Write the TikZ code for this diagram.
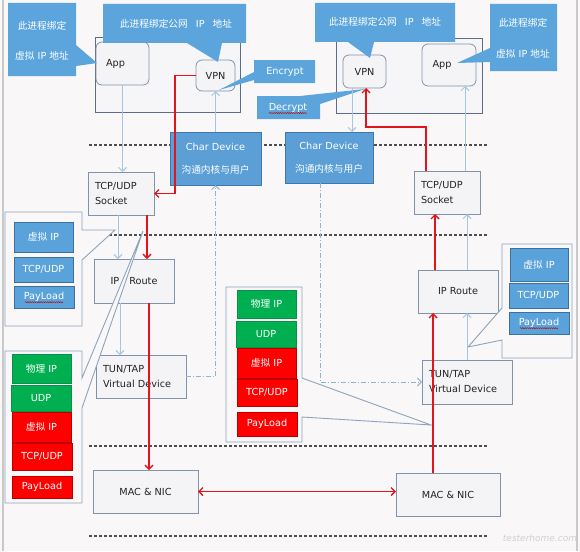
\documentclass[tikz,border=0pt]{standalone}
\usepackage{fontspec}
\setmainfont{DejaVu Sans}
\newfontfamily\cjk{Noto Sans CJK SC}
\usetikzlibrary{arrows.meta,decorations.pathmorphing,calc}
\newcommand\zh[1]{{\cjk #1}}
\newcommand\mkbox[7]{\node[#1,anchor=north west,minimum width={(#5)-(#3)},minimum height={(#6)-(#4)}] (#2) at (#3,#4) {#7};}
\definecolor{bg}{HTML}{F9F7F8}
\definecolor{framec}{HTML}{C9C9C9}
\definecolor{sepc}{HTML}{4D4D4D}
\definecolor{nodeF}{HTML}{F4F4F6}
\definecolor{nodeB}{HTML}{8193AA}
\definecolor{hostB}{HTML}{5A6E8C}
\definecolor{hostF}{HTML}{F6F6F8}
\definecolor{cblue}{HTML}{5CA5DC}
\definecolor{cdF}{HTML}{5B9FD6}
\definecolor{cdB}{HTML}{3F78AE}
\definecolor{sblue}{HTML}{5AA2DA}
\definecolor{sblueB}{HTML}{3D70A0}
\definecolor{grF}{HTML}{00B050}
\definecolor{grB}{HTML}{0C8F48}
\definecolor{rdF}{HTML}{FF0000}
\definecolor{rdB}{HTML}{B80000}
\definecolor{pB}{HTML}{8DA4BC}
\definecolor{rdA}{HTML}{E3141C}
\definecolor{lbA}{HTML}{A6C6E0}
\definecolor{ddc}{HTML}{8FB5D3}
\definecolor{txt}{HTML}{222222}
\begin{document}
\begin{tikzpicture}[x=1pt,y=-1pt,
 base/.style={inner sep=0pt,outer sep=0pt,font=\fontsize{9.7}{15}\selectfont},
 plain/.style={base,draw=nodeB,fill=nodeF,line width=0.8pt,text=txt},
 rnd/.style={plain,rounded corners=6pt},
 host/.style={draw=hostB,fill=hostF,line width=1pt},
 cshape/.style={fill=cblue},
 ctext/.style={base,text=white,align=center},
 pshape/.style={fill=bg,draw=pB,line width=0.9pt},
 bluebox/.style={base,fill=sblue,draw=sblueB,line width=0.8pt,text=white},
 greenbox/.style={base,fill=grF,draw=grB,line width=0.8pt,text=white},
 redbox/.style={base,fill=rdF,draw=rdB,line width=0.8pt,text=white},
 dev/.style={base,fill=cdF,draw=cdB,line width=0.8pt,text=white,align=center,font=\fontsize{9.7}{23}\selectfont},
 redarrow/.style={draw=rdA,line width=1.4pt,-{Straight Barb[length=4pt,width=8pt]}},
 redboth/.style={draw=rdA,line width=1.4pt,{Straight Barb[length=4pt,width=8pt]}-{Straight Barb[length=4pt,width=8pt]}},
 bluearrow/.style={draw=lbA,line width=0.9pt,-{Straight Barb[length=4pt,width=8pt]}},
 ddline/.style={draw=ddc,line width=0.9pt,dash pattern=on 5pt off 2pt on 1pt off 2pt,-{Straight Barb[length=4pt,width=8pt]}},
 sepline/.style={draw=sepc,line width=1.2pt,dash pattern=on 3pt off 2pt},
 squig/.style={draw=red!75!black,line width=0.4pt,decorate,decoration={snake,amplitude=0.6pt,segment length=2.2pt}}
]
\useasboundingbox (0,0) rectangle (580,551);
\fill[bg] (0,0) rectangle (580,551);
\draw[framec,line width=1.5pt] (3,0) -- (3,551);
\draw[framec,line width=1.5pt] (577,0) -- (577,551);
% layer separators
\foreach \yy in {145,235,446,536} \draw[sepline] (89,\yy) -- (487,\yy);
% hosts
\mkbox{host}{hostL}{95}{37}{240}{112}{}
\mkbox{host}{hostR}{336}{38}{482}{113}{}
% processes
\mkbox{rnd,text width=33,align=left}{appL}{96}{42}{149}{85}{App}
\mkbox{rnd}{vpnL}{196}{60}{235}{91}{VPN}
\mkbox{rnd}{vpnR}{343}{55}{386}{88}{VPN}
\mkbox{rnd,text width=33,align=left}{appR}{422}{44}{476}{86}{App}
% blue callouts
\fill[cshape] (8,3) -- (76,3) -- (76,45) -- (97,63) -- (76,66) -- (76,76) -- (8,76) -- cycle;
\node[ctext,font=\fontsize{9.7}{30}\selectfont] (c1) at (42,41) {\zh{此进程绑定}\\\zh{虚拟} IP \zh{地址}};
\fill[cshape] (103,4) -- (246,4) -- (246,43) -- (222,43) -- (218,62) -- (187,43) -- (103,43) -- cycle;
\node[ctext] (c2) at (176,24) {\zh{此进程绑定公网}\hspace{8pt}IP\hspace{8pt}\zh{地址}};
\fill[cshape] (254,60) -- (315,60) -- (315,83) -- (254,83) -- (254,80) -- (219,90) -- (254,72) -- cycle;
\node[ctext] (c3) at (285,72) {Encrypt};
\fill[cshape] (257,96) -- (300,96) -- (365,89) -- (320,104) -- (320,119) -- (257,119) -- cycle;
\node[ctext] (c4) at (288,108) {Decrypt};
\fill[cshape] (315,3) -- (455,3) -- (455,42) -- (374,42) -- (370,58) -- (348,42) -- (315,42) -- cycle;
\node[ctext] (c5) at (385,22) {\zh{此进程绑定公网}\hspace{8pt}IP\hspace{8pt}\zh{地址}};
\fill[cshape] (490,4) -- (557,4) -- (557,71) -- (490,71) -- (490,62) -- (457,63) -- (490,48) -- cycle;
\node[ctext,font=\fontsize{9.7}{31}\selectfont] (c6) at (523,38) {\zh{此进程绑定}\\\zh{虚拟} IP \zh{地址}};
% kernel nodes
\mkbox{dev}{cdL}{170}{132}{261}{185}{Char Device\\\zh{沟通内核与用户}}
\mkbox{dev}{cdR}{285}{132}{373}{183}{Char Device\\\zh{沟通内核与用户}}
\mkbox{plain,text width=52,align=left}{sockL}{88}{172}{154}{215}{TCP/UDP\\Socket}
\mkbox{plain,text width=52,align=left}{sockR}{414}{171}{480}{214}{TCP/UDP\\Socket}
\mkbox{plain}{routeL}{94}{259}{174}{303}{IP\hspace{7pt} Route}
\mkbox{plain}{routeR}{418}{270}{498}{313}{IP Route}
\mkbox{plain,text width=76,align=left}{tunL}{96}{355}{186}{398}{TUN/TAP\\Virtual Device}
\mkbox{plain,text width=76,align=left}{tunR}{422}{360}{512}{404}{TUN/TAP\\Virtual Device}
\mkbox{plain}{macL}{93}{470}{198}{513}{MAC \& NIC}
\mkbox{plain}{macR}{396}{473}{500}{516}{MAC \& NIC}
% packet callouts
\draw[pshape] (5,212) -- (82,212) -- (82,230) -- (115,230) -- (82,260) -- (82,326) -- (5,326) -- cycle;
\draw[pshape] (5,351) -- (82,351) -- (82,378) -- (143,231) -- (82,408) -- (82,503) -- (5,503) -- cycle;
\draw[pshape] (226,287) -- (302,287) -- (302,378) -- (431,425) -- (302,417) -- (302,442) -- (226,442) -- cycle;
\draw[pshape] (502,244) -- (572,244) -- (572,358) -- (502,358) -- (502,340) -- (468,347) -- (502,308) -- cycle;
% left plain packet
\mkbox{bluebox}{vipA}{14}{222}{73}{252}{\zh{虚拟} IP}
\mkbox{bluebox}{tcpA}{14}{257}{73}{282}{TCP/UDP}
\mkbox{bluebox}{plA}{14}{286}{74}{308}{PayLoad}
% left tunnelled packet
\mkbox{greenbox}{pipB}{12}{354}{71}{383}{\zh{物理} IP}
\mkbox{greenbox}{udpB}{11}{385}{71}{411}{UDP}
\mkbox{redbox}{vipB}{12}{412}{71}{442}{\zh{虚拟} IP}
\mkbox{redbox}{tcpB}{12}{443}{72}{470}{TCP/UDP}
\mkbox{redbox}{plB}{12}{476}{72}{498}{PayLoad}
% middle tunnelled packet
\mkbox{greenbox}{pipC}{237}{290}{296}{318}{\zh{物理} IP}
\mkbox{greenbox}{udpC}{236}{321}{296}{347}{UDP}
\mkbox{redbox}{vipC}{237}{348}{296}{378}{\zh{虚拟} IP}
\mkbox{redbox}{tcpC}{237}{379}{297}{406}{TCP/UDP}
\mkbox{redbox}{plC}{237}{412}{297}{436}{PayLoad}
% right plain packet
\mkbox{bluebox}{vipD}{510}{248}{568}{281}{\zh{虚拟} IP}
\mkbox{bluebox}{tcpD}{509}{283}{568}{308}{TCP/UDP}
\mkbox{bluebox}{plD}{509}{312}{569}{334}{PayLoad}
% spell-check marks
\draw[squig] ([xshift=-19pt,yshift=-2.5pt]plA.base) -- ([xshift=19pt,yshift=-2.5pt]plA.base);
\draw[squig] ([xshift=-19pt,yshift=-2.5pt]plD.base) -- ([xshift=19pt,yshift=-2.5pt]plD.base);
\draw[squig] ([xshift=-19pt,yshift=-2.5pt]c4.base) -- ([xshift=19pt,yshift=-2.5pt]c4.base);
% column coordinates
\coordinate (xa) at (147,0);
\coordinate (xb) at (149,0);
\coordinate (xc) at (118,0);
\coordinate (xd) at (120,0);
\coordinate (xe) at (433,0);
\coordinate (xf) at (435,0);
\coordinate (xg) at (352,0);
\coordinate (xh) at (320,0);
\coordinate (xi) at (465,0);
\coordinate (xj) at (467,0);
\coordinate (ra) at (175,150);
\coordinate (rb) at (426,127);
\coordinate (rc) at (366,127);
% light blue data paths
\draw[bluearrow] (appL.south) -- (appL.south |- sockL.north);
\draw[bluearrow] (cdL.north) -- (cdL.north |- vpnL.south);
\draw[bluearrow] (sockL.south -| xc) -- (routeL.north -| xc);
\draw[bluearrow] (routeL.south -| xd) -- (tunL.north -| xd);
\draw[ddline] (tunL.east) -| (cdL.south);
\draw[bluearrow] (vpnR.south -| xg) -- (cdR.north -| xg);
\draw[ddline] (cdR.south -| xh) |- (tunR.west);
\draw[bluearrow] (sockR.north -| xi) -- (appR.south -| xi);
\draw[bluearrow] (routeR.north -| xj) -- (sockR.south -| xj);
\draw[bluearrow] (tunR.north -| xj) -- (routeR.south -| xj);
% red tunnel path
\draw[redarrow] (vpnL.west) -| (ra) |- (sockL.east);
\draw[redarrow] (sockL.south -| xa) -- (routeL.north -| xa);
\draw[redarrow] (routeL.south -| xb) -- (macL.north -| xb);
\draw[redboth] (macL.east) -- (macL.east -| macR.west);
\draw[redarrow] (macR.north -| xe) -- (routeR.south -| xe);
\draw[redarrow] (routeR.north -| xf) -- (sockR.south -| xf);
\draw[redarrow] (sockR.north -| rb) -- (rb) -- (rc) -- (vpnR.south -| rc);
% watermark
\node[text=black!18,font=\fontsize{9}{9}\selectfont\itshape] (wm) at (540,538) {testerhome.com};
\end{tikzpicture}
\end{document}
